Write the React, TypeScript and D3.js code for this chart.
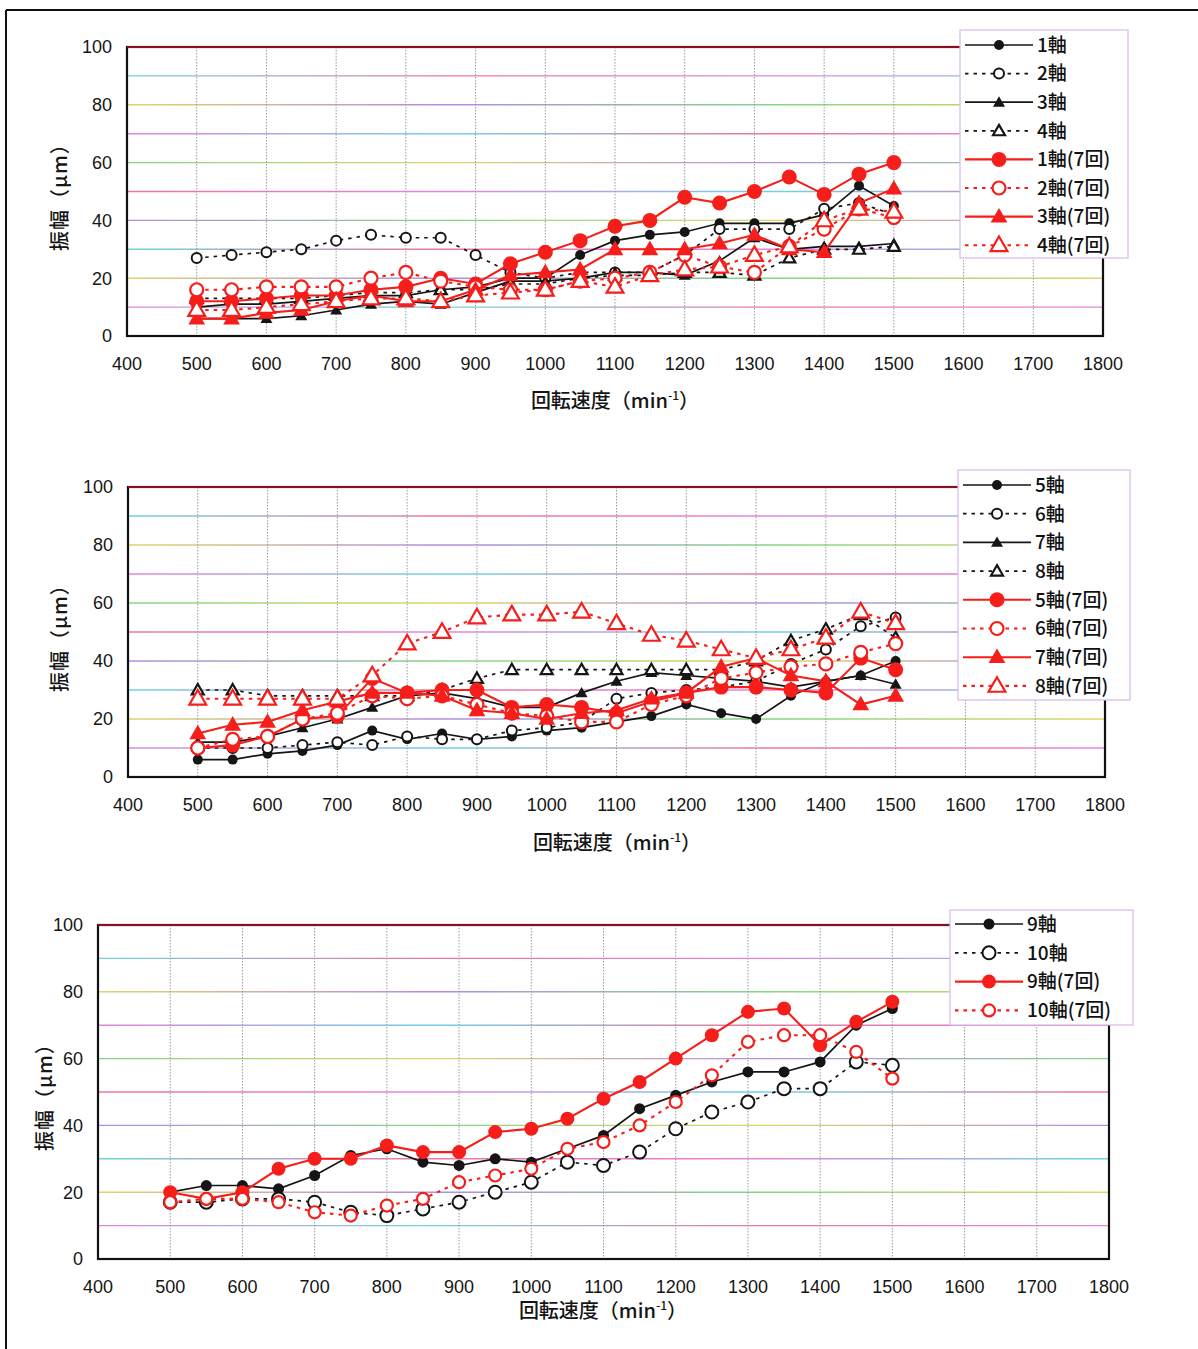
import * as d3 from "d3";

// rotation speed (min^-1) at every measured point
const rpm = [500, 550, 600, 650, 700, 750, 800, 850, 900, 950, 1000, 1050, 1100, 1150, 1200, 1250, 1300, 1350, 1400, 1450, 1500];
const xTicks = [400, 500, 600, 700, 800, 900, 1000, 1100, 1200, 1300, 1400, 1500, 1600, 1700, 1800];
const yTicks = [0, 20, 40, 60, 80, 100];
const gridLevels = [10, 20, 30, 40, 50, 60, 70, 80, 90, 100];

// panel 1 : axes 1-4
const ax1 = [10, 11, 11, 12, 13, 14, 14, 16, 17, 20, 20, 28, 33, 35, 36, 39, 39, 39, 42, 52, 45];
const ax2 = [27, 28, 29, 30, 33, 35, 34, 34, 28, 22, 20, 22, 22, 22, 28, 37, 37, 37, 44, 46, 42];
const ax3 = [6, 6, 6, 7, 9, 11, 12, 11, 15, 19, 19, 20, 22, 22, 21, 26, 34, 30, 31, 31, 32];
const ax4 = [13, 13, 13, 13, 14, 15, 15, 16, 16, 18, 18, 20, 21, 21, 22, 22, 21, 27, 30, 30, 31];
const ax1r = [12, 12, 13, 14, 14, 16, 17, 20, 18, 25, 29, 33, 38, 40, 48, 46, 50, 55, 49, 56, 60];
const ax2r = [16, 16, 17, 17, 17, 20, 22, 19, 17, 16, 16, 19, 20, 22, 28, 24, 22, 31, 37, 44, 41];
const ax3r = [6, 6, 8, 9, 12, 14, 12, 12, 16, 21, 22, 23, 30, 30, 30, 32, 35, 30, 29, 46, 51];
const ax4r = [9, 9, 10, 11, 12, 13, 13, 12, 14, 15, 16, 19, 17, 21, 23, 24, 28, 31, 40, 44, 43];

// panel 2 : axes 5-8
const ax5 = [6, 6, 8, 9, 11, 16, 13, 15, 13, 14, 16, 17, 19, 21, 25, 22, 20, 28, 33, 35, 40];
const ax6 = [10, 10, 10, 11, 12, 11, 14, 13, 13, 16, 17, 19, 27, 29, 30, 31, 33, 39, 44, 52, 55];
const ax7 = [12, 12, 14, 17, 20, 24, 28, 29, 27, 24, 24, 29, 33, 36, 35, 34, 33, 31, 33, 35, 32];
const ax8 = [30, 30, 28, 28, 28, 28, 28, 30, 34, 37, 37, 37, 37, 37, 37, 37, 40, 47, 51, 56, 48];
const ax5r = [10, 11, 14, 20, 21, 34, 29, 30, 30, 24, 25, 24, 22, 26, 29, 31, 31, 30, 29, 41, 37];
const ax6r = [10, 13, 14, 20, 22, 28, 27, 28, 25, 22, 21, 19, 19, 25, 28, 34, 36, 38, 39, 43, 46];
const ax7r = [15, 18, 19, 23, 26, 29, 29, 28, 23, 22, 20, 22, 23, 27, 29, 38, 41, 35, 33, 25, 28];
const ax8r = [27, 27, 27, 27, 27, 35, 46, 50, 55, 56, 56, 57, 53, 49, 47, 44, 41, 44, 48, 57, 53];

// panel 3 : axes 9-10
const ax9 = [20, 22, 22, 21, 25, 31, 33, 29, 28, 30, 29, 33, 37, 45, 49, 53, 56, 56, 59, 70, 75];
const ax10 = [17, 17, 18, 18, 17, 14, 13, 15, 17, 20, 23, 29, 28, 32, 39, 44, 47, 51, 51, 59, 58];
const ax9r = [20, 18, 20, 27, 30, 30, 34, 32, 32, 38, 39, 42, 48, 53, 60, 67, 74, 75, 64, 71, 77];
const ax10r = [17, 18, 18, 17, 14, 13, 16, 18, 23, 25, 27, 33, 35, 40, 47, 55, 65, 67, 67, 62, 54];

const BLACK = "#151515";
const RED = "#f51e1a";
const gridColors = ["#e070d8", "#d8d050", "#58cce0", "#a878e0", "#e86090", "#70d070"];

type Mark = "dot" | "ring" | "tri" | "otri";
interface Series {
  label: string;
  values: number[];
  color: string;
  dashed: boolean;
  mark: Mark;
  r: number;
  width: number;
}

const black = (label: string, values: number[], mark: Mark, r = 5): Series => ({
  label, values, color: BLACK, dashed: mark === "ring" || mark === "otri", mark, r, width: 1.7,
});
const red = (label: string, values: number[], mark: Mark, r = 7): Series => ({
  label, values, color: RED, dashed: mark === "ring" || mark === "otri", mark, r, width: 2.1,
});

const series1: Series[] = [
  black("1軸", ax1, "dot"), black("2軸", ax2, "ring"), black("3軸", ax3, "tri"), black("4軸", ax4, "otri"),
  red("1軸(7回)", ax1r, "dot", 7.5), red("2軸(7回)", ax2r, "ring", 6.5), red("3軸(7回)", ax3r, "tri"), red("4軸(7回)", ax4r, "otri"),
];
const series2: Series[] = [
  black("5軸", ax5, "dot"), black("6軸", ax6, "ring"), black("7軸", ax7, "tri"), black("8軸", ax8, "otri"),
  red("5軸(7回)", ax5r, "dot", 7.5), red("6軸(7回)", ax6r, "ring", 6.5), red("7軸(7回)", ax7r, "tri"), red("8軸(7回)", ax8r, "otri"),
];
const series3: Series[] = [
  black("9軸", ax9, "dot", 5.5), black("10軸", ax10, "ring", 6.5),
  red("9軸(7回)", ax9r, "dot", 7), red("10軸(7回)", ax10r, "ring", 6),
];

function Marker({ s, x, y }: { s: Series; x: number; y: number }) {
  if (s.mark === "dot") return <circle cx={x} cy={y} r={s.r} fill={s.color} />;
  if (s.mark === "ring")
    return <circle cx={x} cy={y} r={s.r} fill="#fff" stroke={s.color} strokeWidth={s.color === RED ? 2.2 : 2} />;
  const side = s.r * 2.4;
  const d = d3.symbol().type(d3.symbolTriangle).size((Math.sqrt(3) / 4) * side * side)()!;
  if (s.mark === "tri") return <path d={d} transform={`translate(${x},${y + 1})`} fill={s.color} />;
  return <path d={d} transform={`translate(${x},${y + 1})`} fill="#fff" stroke={s.color} strokeWidth={2.2} />;
}

interface PanelProps {
  id: string;
  left: number; right: number; top: number; bottom: number;
  series: Series[];
  legend: { x: number; y: number; w: number; h: number; row0: number; step: number };
  yTitle: { x: number; y: number };
  xTitle: { x: number; y: number };
}

function Panel({ id, left, right, top, bottom, series, legend, yTitle, xTitle }: PanelProps) {
  const x = d3.scaleLinear().domain([400, 1800]).range([left, right]);
  const y = d3.scaleLinear().domain([0, 100]).range([bottom, top]);
  const line = d3.line<number>().x((_, i) => x(rpm[i])).y((v) => y(v));
  const font = "'Liberation Sans', Arial, sans-serif";
  const jp = "'Noto Sans CJK JP', sans-serif";
  return (
    <g>
      <defs>
        {gridLevels.map((g, i) => (
          <linearGradient key={g} id={`${id}-g${i}`} gradientUnits="userSpaceOnUse" x1={left} x2={right} y1={0} y2={0}>
            {[0, 1, 2, 3].map((k) => (
              <stop key={k} offset={`${k * 33}%`} stopColor={gridColors[(i + k * 2) % gridColors.length]} />
            ))}
          </linearGradient>
        ))}
      </defs>
      {/* horizontal grid */}
      {gridLevels.map((g, i) => (
        <line key={g} x1={left} x2={right} y1={y(g)} y2={y(g)} stroke={`url(#${id}-g${i})`} strokeWidth={1.4} opacity={0.85} />
      ))}
      {/* vertical grid */}
      {xTicks.slice(1, -1).map((t) => (
        <line key={t} x1={x(t)} x2={x(t)} y1={top} y2={bottom} stroke="#9a9aa8" strokeWidth={1} strokeDasharray="1.5,1.5" />
      ))}
      <rect x={left} y={top} width={right - left} height={bottom - top} fill="none" stroke="#111" strokeWidth={2.2} />
      <line x1={left} x2={right} y1={top} y2={top} stroke="#8a1020" strokeWidth={2} />
      {/* ticks */}
      {yTicks.map((t) => (
        <text key={t} x={left - 15} y={y(t)} dy="0.36em" textAnchor="end" fontFamily={font} fontSize={18} fill="#151515">
          {t}
        </text>
      ))}
      {xTicks.map((t) => (
        <text key={t} x={x(t)} y={bottom + 28} dy="0.36em" textAnchor="middle" fontFamily={font} fontSize={18} fill="#151515">
          {t}
        </text>
      ))}
      <text
        x={yTitle.x} y={yTitle.y} transform={`rotate(-90 ${yTitle.x} ${yTitle.y})`}
        textAnchor="middle" dy="0.36em" fontFamily={jp} fontSize={20} fontWeight={500} fill="#151515" letterSpacing={1}
      >
        振幅（μm）
      </text>
      <text x={xTitle.x} y={xTitle.y} dy="0.36em" textAnchor="middle" fontFamily={jp} fontSize={20} fontWeight={500} fill="#151515">
        回転速度（min<tspan fontSize={12} dy="-0.7em">-1</tspan><tspan dy="0.42em">）</tspan>
      </text>
      {/* data */}
      {series.map((s) => (
        <g key={s.label}>
          <path d={line(s.values)!} fill="none" stroke={s.color} strokeWidth={s.width}
            strokeDasharray={s.dashed ? "3.5,5" : undefined} />
          {s.values.map((v, i) => (
            <Marker key={i} s={s} x={x(rpm[i])} y={y(v)} />
          ))}
        </g>
      ))}
      {/* legend */}
      <rect x={legend.x} y={legend.y} width={legend.w} height={legend.h} fill="#fff" stroke="#d6b8e6" strokeWidth={1.2} />
      {series.map((s, i) => {
        const ry = legend.row0 + i * legend.step;
        const x1 = legend.x + 5;
        const x2 = legend.x + 73;
        return (
          <g key={s.label}>
            <line x1={x1} x2={x2} y1={ry} y2={ry} stroke={s.color} strokeWidth={s.width}
              strokeDasharray={s.dashed ? "3.5,5" : undefined} />
            <Marker s={s} x={(x1 + x2) / 2} y={ry} />
            <text x={x2 + 4} y={ry} dy="0.36em" fontFamily={jp} fontSize={19} fontWeight={500} fill="#111">
              {s.label}
            </text>
          </g>
        );
      })}
    </g>
  );
}

export default function App() {
  return (
    <svg width={1198} height={1349} style={{ position: "absolute", left: 0, top: 0, background: "#fff" }}>
      <line x1={6} x2={1198} y1={10} y2={10} stroke="#111" strokeWidth={2} />
      <line x1={6} x2={6} y1={10} y2={1349} stroke="#111" strokeWidth={2} />
      <Panel
        id="p1" left={127} right={1103} top={47} bottom={336} series={series1}
        legend={{ x: 960, y: 30, w: 168, h: 228, row0: 45, step: 28.6 }}
        yTitle={{ x: 60, y: 192 }} xTitle={{ x: 615, y: 401 }}
      />
      <Panel
        id="p2" left={128} right={1105} top={487} bottom={777} series={series2}
        legend={{ x: 958, y: 470, w: 172, h: 230, row0: 485, step: 28.7 }}
        yTitle={{ x: 60, y: 633 }} xTitle={{ x: 617, y: 843 }}
      />
      <Panel
        id="p3" left={98} right={1109} top={925} bottom={1259} series={series3}
        legend={{ x: 950, y: 910, w: 183, h: 115, row0: 924, step: 28.8 }}
        yTitle={{ x: 45, y: 1092 }} xTitle={{ x: 603, y: 1311 }}
      />
    </svg>
  );
}
